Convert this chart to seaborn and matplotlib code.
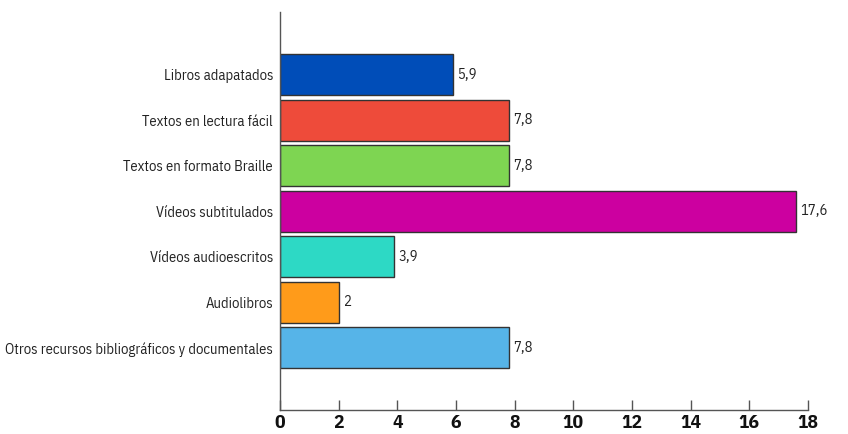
import pandas as pd
import matplotlib.pyplot as plt
import seaborn as sns

categories = ['Libros adapatados', 'Textos en lectura fácil', 'Textos en formato Braille',
              'Vídeos subtitulados', 'Vídeos audioescritos', 'Audiolibros',
              'Otros recursos bibliográficos y documentales']
values = [5.9, 7.8, 7.8, 17.6, 3.9, 2, 7.8]
labels = ['5,9', '7,8', '7,8', '17,6', '3,9', '2', '7,8']
colors = ['#004DB8', '#EE4B3A', '#7ED552', '#CC00A0', '#2DD9C5', '#FF9B1A', '#56B4E8']
xticks = [0, 2, 4, 6, 8, 10, 12, 14, 16, 18]

df = pd.DataFrame({'recurso': categories, 'valor': values})

sns.set_style('white')
plt.rcParams['font.family'] = ['IBM Plex Sans Condensed', 'DejaVu Sans']

fig = plt.figure(figsize=(8.48, 4.34), dpi=100)
ax = fig.add_axes([280 / 848, 24 / 434, 528 / 848, 398 / 434])

sns.barplot(data=df, y='recurso', x='valor', hue='recurso', palette=colors,
            saturation=1, legend=False, width=0.9, edgecolor='#333333',
            linewidth=1, ax=ax)

for cont, lab in zip(ax.containers, labels):
    ax.bar_label(cont, labels=[lab], padding=3, fontsize=10.5, color='#222222')

ax.set_xlim(0, 18)
ax.set_ylim(7.37, -1.38)
ax.set_xticks(xticks)
ax.set_xticklabels([str(t) for t in xticks], fontsize=14, fontweight='bold', color='#111111')
ax.tick_params(axis='x', bottom=True, direction='in', length=7, width=1,
               color='#555555', pad=3)
ax.tick_params(axis='y', left=False, length=0, labelsize=10.5, pad=5, labelcolor='#222222')
ax.set_xlabel('')
ax.set_ylabel('')

for s in ['top', 'right']:
    ax.spines[s].set_visible(False)
for s in ['left', 'bottom']:
    ax.spines[s].set_color('#555555')
    ax.spines[s].set_linewidth(1)

fig.savefig('out.png', dpi=100)
